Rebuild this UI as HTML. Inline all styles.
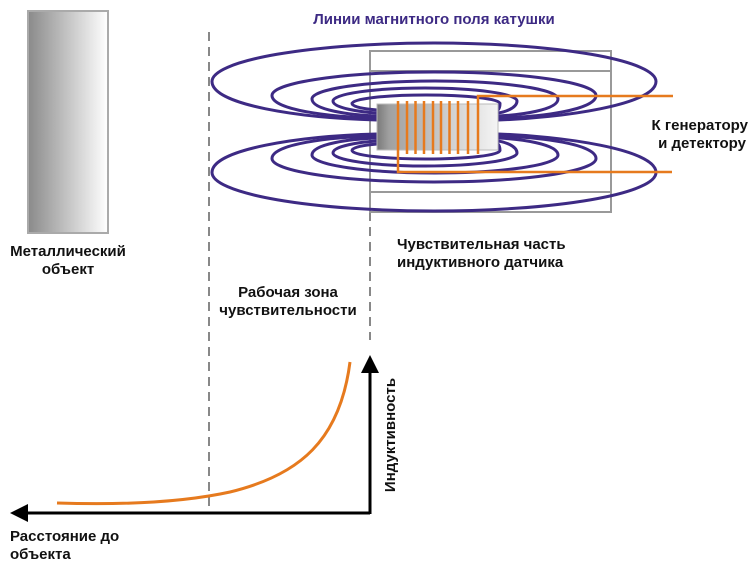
<!DOCTYPE html>
<html><head><meta charset="utf-8"><style>
html,body{margin:0;padding:0;background:#fff;}
svg{display:block;}
text{font-family:"Liberation Sans",sans-serif;font-weight:bold;font-size:15px;fill:#111;}
</style></head><body>
<svg width="755" height="565" viewBox="0 0 755 565" xmlns="http://www.w3.org/2000/svg">
<defs>
<linearGradient id="gm" x1="0" x2="1" y1="0" y2="0">
<stop offset="0" stop-color="#8a8a8a"/><stop offset="1" stop-color="#ffffff"/>
</linearGradient>
<linearGradient id="gc" x1="0" x2="1" y1="0" y2="0">
<stop offset="0" stop-color="#7a7a7a"/><stop offset="0.1" stop-color="#a0a0a0"/><stop offset="1" stop-color="#f5f5f5"/>
</linearGradient>
</defs>
<rect x="28" y="11" width="80" height="222" fill="url(#gm)" stroke="#aaa" stroke-width="2"/>
<line x1="209" y1="32" x2="209" y2="513" stroke="#888" stroke-width="2" stroke-dasharray="9,6"/>
<line x1="370" y1="212" x2="370" y2="340" stroke="#888" stroke-width="2" stroke-dasharray="9,6"/>
<rect x="370" y="51" width="241" height="161" fill="none" stroke="#999" stroke-width="2"/>
<line x1="370" y1="71" x2="611" y2="71" stroke="#999" stroke-width="2"/>
<line x1="370" y1="192" x2="611" y2="192" stroke="#999" stroke-width="2"/>
<g fill="none" stroke="#3d2a84" stroke-width="3">
<path d="M212,81.5 A222,38.5 0 0 1 656,81.5 C656,105 560,118 498,120 L377,120 C300,118 212,105 212,81.5 Z"/>
<path d="M272,95.5 A162,23.5 0 0 1 596,95.5 C596,110 540,117 498,118 L377,118 C330,117 272,110 272,95.5 Z"/>
<path d="M312,99 A123,18 0 0 1 558,99 C558,110 520,115 498,116 L377,116 C350,115 312,110 312,99 Z"/>
<path d="M333,101 A92,13 0 0 1 517,101 C517,108 505,112 498,113 L377,113 C360,112 333,108 333,101 Z"/>
<path d="M352,103.5 A74,8.5 0 0 1 500,103.5 C500,107 499,109 498,110 L377,110 C365,109 352,107 352,103.5 Z"/>
<path d="M212,172.5 A222,38.5 0 0 0 656,172.5 C656,149 560,136 498,134 L377,134 C300,136 212,149 212,172.5 Z"/>
<path d="M272,158.5 A162,23.5 0 0 0 596,158.5 C596,144 540,137 498,136 L377,136 C330,137 272,144 272,158.5 Z"/>
<path d="M312,155 A123,18 0 0 0 558,155 C558,144 520,139 498,138 L377,138 C350,139 312,144 312,155 Z"/>
<path d="M333,153 A92,13 0 0 0 517,153 C517,146 505,142 498,141 L377,141 C360,142 333,146 333,153 Z"/>
<path d="M352,150.5 A74,8.5 0 0 0 500,150.5 C500,147 499,145 498,144 L377,144 C365,145 352,147 352,150.5 Z"/>
</g>
<rect x="377" y="104" width="121" height="46" fill="url(#gc)" stroke="#bbb" stroke-width="1"/>
<g stroke="#e67a1e" stroke-width="2.5" fill="none">
<polyline points="398,101 398,172 672,172"/>
<line x1="407" y1="101" x2="407" y2="154"/>
<line x1="415.5" y1="101" x2="415.5" y2="154"/>
<line x1="424" y1="101" x2="424" y2="154"/>
<line x1="433" y1="101" x2="433" y2="154"/>
<line x1="441" y1="101" x2="441" y2="154"/>
<line x1="449.5" y1="101" x2="449.5" y2="154"/>
<line x1="458" y1="101" x2="458" y2="154"/>
<line x1="468" y1="101" x2="468" y2="154"/>
<polyline points="478,154 478,96 673,96"/>
</g>
<path d="M57,503 C120,505 180,503 230,492 C300,475 340,440 350,362" fill="none" stroke="#e67a1e" stroke-width="3"/>
<line x1="370" y1="513" x2="26" y2="513" stroke="#000" stroke-width="3"/>
<polygon points="10,513 28,504 28,522" fill="#000"/>
<line x1="370" y1="514" x2="370" y2="370" stroke="#000" stroke-width="3"/>
<polygon points="370,355 361,373 379,373" fill="#000"/>
<text x="434" y="24" text-anchor="middle" style="fill:#3d2a84">Линии магнитного поля катушки</text>
<text x="68" y="256" text-anchor="middle">Металлический</text>
<text x="68" y="274" text-anchor="middle">объект</text>
<text x="288" y="297" text-anchor="middle">Рабочая зона</text>
<text x="288" y="315" text-anchor="middle">чувствительности</text>
<text x="397" y="249">Чувствительная часть</text>
<text x="397" y="267">индуктивного датчика</text>
<text x="748" y="130" text-anchor="end">К генератору</text>
<text x="746" y="148" text-anchor="end">и детектору</text>
<text x="10" y="541">Расстояние до</text>
<text x="10" y="559">объекта</text>
<text transform="translate(395,435) rotate(-90)" text-anchor="middle">Индуктивность</text>
</svg>
</body></html>
